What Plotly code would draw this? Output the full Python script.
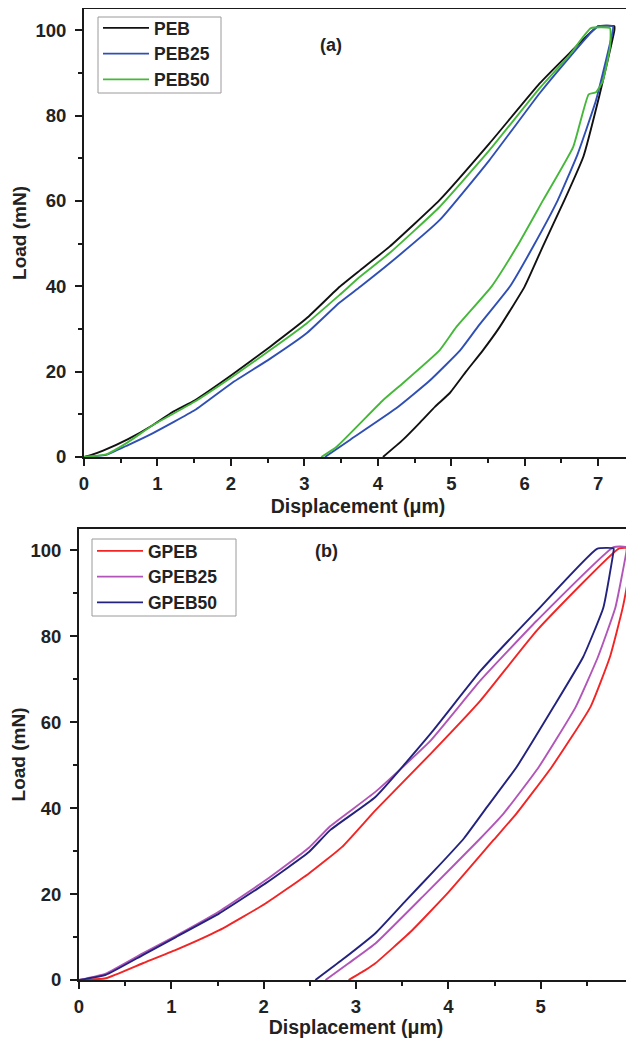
import plotly.graph_objects as go

# ---------------- (a) PEB series (loading then unloading) ----------------
peb_x = [0, 0.1, 0.26, 0.6, 0.94, 1.2, 1.51, 2.01, 2.53, 3.03, 3.48, 3.76, 4.16, 4.84, 5.52, 6.2, 6.6, 6.93, 7.0, 7.22,
         7.22, 7.0, 6.8, 6.54, 6.25, 6.0, 5.66, 5.43, 5.2, 4.98, 4.78, 4.57, 4.34, 4.07]
peb_y = [0, 0.5, 1.5, 4.2, 7.5, 10.5, 13.3, 19.2, 25.8, 32.5, 39.9, 43.8, 49.3, 60.2, 73.5, 87.5, 94.5, 100, 101, 101,
         100, 83.6, 70.5, 60.2, 49.5, 40, 30.5, 25, 20, 15, 11.8, 8, 4, 0]

peb25_x = [0, 0.3, 0.6, 0.94, 1.51, 2.01, 2.53, 3.03, 3.48, 3.76, 4.16, 4.84, 5.52, 6.2, 6.6, 6.93, 7.0, 7.2,
           7.2, 6.97, 6.72, 6.45, 6.12, 5.8, 5.36, 5.12, 4.7, 4.25, 3.62, 3.28]
peb25_y = [0, 0.5, 2.8, 5.6, 11.0, 17.3, 23.0, 29.0, 36.2, 39.9, 45.4, 55.5, 69.6, 85.2, 93.5, 100, 101, 101,
           100, 83.6, 71.0, 60.2, 49.5, 40, 30.5, 25, 17.8, 11.4, 4, 0]

peb50_x = [0, 0.3, 0.6, 0.94, 1.51, 2.01, 2.53, 3.03, 3.48, 3.76, 4.16, 4.84, 5.52, 6.2, 6.6, 6.9, 7.16,
           7.16, 7.06, 6.97, 6.87, 6.66, 6.25, 5.9, 5.55, 5.07, 4.84, 4.34, 4.07, 3.44, 3.23]
peb50_y = [0, 0.6, 3.5, 7.5, 13.0, 18.7, 25.0, 31.3, 38.0, 42.3, 47.8, 58.6, 71.9, 86.4, 94.0, 100.5, 100.5,
           96, 88, 85.5, 85, 72.7, 60.2, 49.5, 40, 30.5, 25, 17.3, 13.3, 2.4, 0]

# ---------------- (b) GPEB series (loading then unloading) ----------------
gpeb_x = [0, 0.29, 0.69, 1.05, 1.52, 2.02, 2.49, 2.85, 3.21, 3.81, 4.35, 4.96, 5.85, 5.97,
          5.99, 5.89, 5.75, 5.54, 5.12, 4.74, 4.49, 4.0, 3.6, 3.21, 3.10, 2.92]
gpeb_y = [0, 0.4, 3.9, 7.0, 11.6, 17.8, 24.8, 31.0, 39.5, 52.7, 65.1, 81.4, 100.5, 100.5,
          99, 86.8, 75.2, 63.6, 49.6, 38.8, 32.6, 20.4, 11.4, 3.9, 2.3, 0]

gpeb25_x = [0, 0.29, 0.69, 1.05, 1.52, 2.02, 2.49, 2.72, 3.21, 3.81, 4.35, 4.96, 5.79, 5.93,
            5.93, 5.81, 5.62, 5.38, 4.98, 4.60, 4.33, 3.75, 3.21, 2.92, 2.67]
gpeb25_y = [0, 1.5, 6.2, 10.3, 16.0, 23.2, 30.8, 35.8, 43.8, 55.8, 69.8, 83.7, 100.8, 100.8,
            100, 86.8, 75.2, 63.6, 49.6, 38.8, 32.6, 20, 8.5, 3.9, 0]

gpeb50_x = [0, 0.29, 0.69, 1.05, 1.52, 2.02, 2.49, 2.72, 3.21, 3.81, 4.35, 4.96, 5.61, 5.79,
            5.79, 5.68, 5.46, 5.14, 4.74, 4.42, 4.17, 3.85, 3.54, 3.21, 2.85, 2.56]
gpeb50_y = [0, 1.2, 5.8, 10.0, 15.5, 22.5, 29.8, 34.9, 42.6, 57.4, 72.0, 86.0, 100.4, 100.5,
            100, 86.8, 75.2, 63.6, 49.6, 40.3, 33, 25.5, 18.5, 10.9, 4.7, 0]

y_ticks = [0, 20, 40, 60, 80, 100]

FONT = "Liberation Sans"
AX = "#1a1a1a"
TXT = "#222222"

# page has an 8px body margin; figure paper starts at (8, 8)
OFF = 8
W, H = 634 - OFF, 1038 - OFF


def px(xp):
    return (xp - OFF) / W


def py(yp):
    return 1 - (yp - OFF) / H


fig = go.Figure()
top = [("PEB", peb_x, peb_y, "#111111"),
       ("PEB25", peb25_x, peb25_y, "#2f4fb5"),
       ("PEB50", peb50_x, peb50_y, "#45b83a")]
bot = [("GPEB", gpeb_x, gpeb_y, "#f22424"),
       ("GPEB25", gpeb25_x, gpeb25_y, "#b255b8"),
       ("GPEB50", gpeb50_x, gpeb50_y, "#23237f")]
for name, x, y, c in top:
    fig.add_trace(go.Scatter(x=x, y=y, name=name, mode="lines",
                             line=dict(color=c, width=1.9, shape="spline", smoothing=0.4),
                             xaxis="x", yaxis="y", legend="legend"))
for name, x, y, c in bot:
    fig.add_trace(go.Scatter(x=x, y=y, name=name, mode="lines",
                             line=dict(color=c, width=1.9, shape="spline", smoothing=0.4),
                             xaxis="x2", yaxis="y2", legend="legend2"))


def xax(domain, rng, anchor, standoff):
    return dict(domain=domain, range=rng, anchor=anchor, automargin=False,
                showline=True, linecolor=AX, linewidth=2, mirror=True,
                ticks="outside", ticklen=7, tickwidth=2, tickcolor=AX, dtick=1, tick0=0,
                ticklabelstandoff=2, ticklabeloverflow="allow",
                minor=dict(ticks="outside", ticklen=4, tickwidth=1.5, tickcolor=AX, dtick=0.5),
                showgrid=False, zeroline=False,
                tickfont=dict(family=FONT, size=18.5, color=TXT, weight="bold"),
                title=dict(text="Displacement (μm)", font=dict(family=FONT, size=19.5, color=TXT, weight="bold"),
                           standoff=standoff))


def yax(domain, anchor):
    return dict(domain=domain, range=[0, 105], anchor=anchor, automargin=False,
                showline=True, linecolor=AX, linewidth=2, mirror=True,
                ticks="outside", ticklen=7, tickwidth=2, tickcolor=AX, tickvals=y_ticks,
                ticklabelstandoff=5,
                minor=dict(ticks="outside", ticklen=4, tickwidth=1.5, tickcolor=AX, dtick=10, tick0=0),
                showgrid=False, zeroline=False,
                tickfont=dict(family=FONT, size=18.5, color=TXT, weight="bold"),
                title=dict(text="Load (mN)", font=dict(family=FONT, size=19, color=TXT, weight="bold"),
                           standoff=4))


legend_common = dict(xanchor="left", yanchor="top", borderwidth=0,
                     bgcolor="rgba(255,255,255,0)", font=dict(family=FONT, size=17.5, color=TXT, weight="bold"),
                     itemwidth=46, tracegroupgap=0)
fig.update_layout(
    width=W, height=H, margin=dict(l=0, r=0, t=0, b=0),
    paper_bgcolor="white", plot_bgcolor="white",
    xaxis=xax([px(84), px(632)], [0, 7.46], "y", 6),
    yaxis=yax([py(457), py(9)], "x"),
    xaxis2=xax([px(79), px(633)], [0, 6.0], "y2", 5),
    yaxis2=yax([py(980), py(529)], "x2"),
    legend=dict(x=px(98), y=py(10), **legend_common),
    legend2=dict(x=px(92), y=py(533), **legend_common),
    shapes=[
        dict(type="rect", xref="paper", yref="paper", x0=px(98), x1=px(221), y0=py(93), y1=py(17),
             line=dict(color="#9a9a9a", width=1)),
        dict(type="rect", xref="paper", yref="paper", x0=px(92), x1=px(236), y0=py(616), y1=py(539),
             line=dict(color="#9a9a9a", width=1)),
    ],
    annotations=[
        dict(text="(a)", x=px(331), y=py(33), xref="paper", yref="paper", showarrow=False,
             font=dict(family=FONT, size=18, color=TXT, weight="bold")),
        dict(text="(b)", x=px(326), y=py(551), xref="paper", yref="paper", showarrow=False,
             font=dict(family=FONT, size=18, color=TXT, weight="bold")),
    ],
)

fig.write_html("out.html")
